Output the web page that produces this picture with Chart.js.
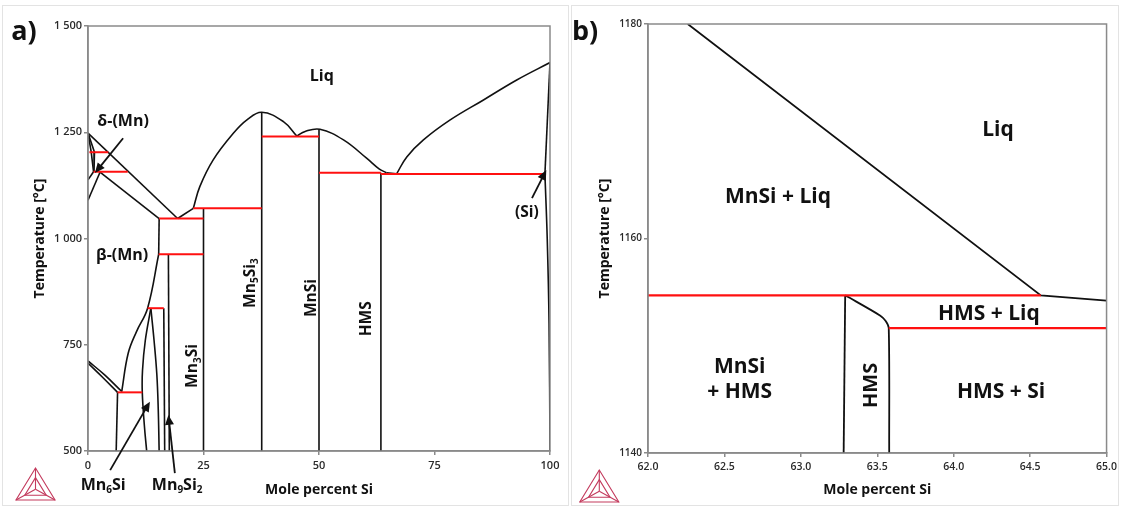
<!DOCTYPE html>
<html>
<head>
<meta charset="utf-8">
<script src="https://cdn.jsdelivr.net/npm/chart.js@4/dist/chart.umd.min.js"></script>
<style>
  html, body { margin: 0; padding: 0; background: #fff; }
  body { width: 1121px; height: 508px; position: relative; overflow: hidden; }
  .frame { position: absolute; border: 1.5px solid #e3e3e3; box-sizing: border-box; }
  .panel { position: absolute; top: 0; height: 508px; }
  #pa { left: 0; width: 570px; }
  #pb { left: 570px; width: 551px; }
</style>
</head>
<body>
<div class="frame" style="left:2px;top:5px;width:567px;height:501px"></div>
<div class="frame" style="left:571px;top:5px;width:548px;height:501px"></div>
<div class="panel" id="pa"><canvas id="ca" width="570" height="508"></canvas></div>
<div class="panel" id="pb"><canvas id="cb" width="551" height="508"></canvas></div>
<script>
const FONT = "'Open Sans', sans-serif";
const INK = '#111111';
const AXIS = '#8a8a8a';
const PHASE = '#111111';
const INVARIANT = '#ff1010';

// ---- Panel a: full Mn–Si diagram (mole % Si, °C) ----
const xTicksA = [0, 25, 50, 75, 100];
const yTicksA = [500, 750, 1000, 1250, 1500];

// liquidus branches
const liqMnSide   = [[0,1248],[19.4,1047]];
const liqEutMn3Si = [[19.4,1047],[22.8,1071]];
const liqMn5Si3   = [[22.8,1071],[24.2,1122],[27.1,1185],[31.5,1248],[34.4,1279],[37.6,1297],[42.3,1275],[45.2,1241]];
const liqMnSi     = [[45.2,1241],[47.0,1252],[50.2,1257],[55.3,1232],[60.3,1189],[63.0,1164],[64.6,1154.7]];
const liqHmsEut   = [[64.6,1154.7],[66.8,1152]];
const liqSi       = [[66.8,1152],[69.0,1192],[72.6,1232],[78.4,1279],[85.6,1326],[92.8,1373],[100,1414]];

// Mn-rich solid solutions
const deltaLeft   = [[0,1248],[0.7,1203],[1.2,1157]];
const deltaRight  = [[0,1248],[1.4,1203],[1.3,1157]];
const deltaLow    = [[0,1138],[1.2,1157]];
const gammaLow    = [[0,1090],[2.6,1156]];
const betaLiq     = [[2.6,1156],[15.4,1047]];
const betaSolvusA = [[15.4,1047],[15.3,963]];
const betaSolvusB = [[15.3,963],[12.9,836],[10.5,781],[8.7,730],[7.3,640]];
const alphaUpper  = [[0,712],[3.6,679],[7.3,640]];
const alphaLower  = [[0,707],[3.2,673],[6.4,638]];
const alphaSolvus = [[6.4,638],[6.1,500]];

// intermediate phases
const mn6SiLeft   = [[13.6,836],[12.4,760],[11.8,690],[11.75,638],[12.2,560],[12.7,500]];
const mn6SiRight  = [[13.6,836],[14.3,760],[14.9,680],[15.2,600],[15.4,500]];
const mn9Si2Left  = [[16.4,836],[16.6,500]];
const mn9Si2Right = [[17.4,963],[17.6,500]];
const mn3Si       = [[25,1071],[25,500]];
const mn5Si3      = [[37.6,1297],[37.6,500]];
const mnSi        = [[50,1257],[50,500]];
const hmsA        = [[63.4,1154.7],[63.4,500]];
const siSolidus   = [[100,1414],[98.9,1151.7]];
const siSolvus    = [[98.9,1151.7],[99.4,1000],[99.8,800],[100,500]];

// invariant reactions (horizontal tie-lines)
const inv1203 = [[0.3,1203],[4.4,1203]];
const inv1157 = [[1.2,1157],[8.6,1157]];
const inv1047 = [[15.4,1047],[25,1047]];
const inv1071 = [[22.8,1071],[37.6,1071]];
const inv1240 = [[37.6,1240],[50,1240]];
const inv1155 = [[50,1154.7],[63.4,1154.7]];
const inv1152 = [[63.4,1151.7],[98.9,1151.7]];
const inv963  = [[15.3,963],[25,963]];
const inv836  = [[12.9,836],[16.4,836]];
const inv638  = [[6.4,638],[11.75,638]];

// ---- Panel b: detail around HMS ----
const xTicksB = [62.0, 62.5, 63.0, 63.5, 64.0, 64.5, 65.0];
const yTicksB = [1140, 1160, 1180];
const liqDetail    = [[62.26,1180],[64.57,1154.7],[65,1154.2]];
const hmsLeftB     = [[63.29,1154.7],[63.28,1140]];
const hmsRightB    = [[63.29,1154.7],[63.52,1152.8],[63.555,1152.3],[63.575,1151.65],[63.578,1140]];
const invUpperB    = [[62,1154.7],[64.57,1154.7]];
const invLowerB    = [[63.575,1151.65],[65,1151.65]];

// ---- text annotations ----
const labelsA = [
  { t: ['Liq'], x: 50.6, y: 1382, size: 16 },
  { t: ['δ-(Mn)'], x: 7.6, y: 1276, size: 16 },
  { t: ['β-(Mn)'], x: 7.4, y: 959, size: 16 },
  { t: ['Mn', { sub: '3' }, 'Si'], x: 22.7, y: 700, size: 15.5, rot: -90 },
  { t: ['Mn', { sub: '5' }, 'Si', { sub: '3' }], x: 35.2, y: 895, size: 15.5, rot: -90 },
  { t: ['MnSi'], x: 48.5, y: 860, size: 15.5, rot: -90 },
  { t: ['HMS'], x: 60.2, y: 811, size: 15.5, rot: -90 },
  { t: ['(Si)'], x: 95.0, y: 1060, size: 15.5 },
  { t: ['Mn', { sub: '6' }, 'Si'], x: 3.3, y: 420, size: 16 },
  { t: ['Mn', { sub: '9' }, 'Si', { sub: '2' }], x: 19.3, y: 420, size: 16 }
];
const arrowsA = [
  { from: [7.6, 1236], to: [1.5, 1154] },
  { from: [96.1, 1095], to: [99.2, 1161] },
  { from: [4.8, 455], to: [13.4, 616] },
  { from: [18.8, 448], to: [17.4, 585] }
];
const labelsB = [
  { t: ['Liq'], x: 64.29, y: 1170.1, size: 21 },
  { t: ['MnSi + Liq'], x: 62.85, y: 1163.9, size: 21 },
  { t: ['MnSi'], x: 62.6, y: 1148.05, size: 21 },
  { t: ['+ HMS'], x: 62.6, y: 1145.7, size: 21 },
  { t: ['HMS'], x: 63.46, y: 1146.3, size: 20, rot: -90 },
  { t: ['HMS + Liq'], x: 64.23, y: 1153.0, size: 21 },
  { t: ['HMS + Si'], x: 64.31, y: 1145.7, size: 21 }
];

function series(points, color, width, tension) {
  return {
    data: points.map(p => ({ x: p[0], y: p[1] })),
    borderColor: color,
    borderWidth: width,
    showLine: true,
    pointRadius: 0,
    pointHoverRadius: 0,
    fill: false,
    tension: tension || 0
  };
}

function drawRich(ctx, parts, x, y, size, rot) {
  const main = `bold ${size}px ${FONT}`;
  const sub = `bold ${Math.round(size * 0.62)}px ${FONT}`;
  ctx.save();
  ctx.translate(x, y);
  ctx.rotate((rot || 0) * Math.PI / 180);
  let w = 0;
  const segs = parts.map(p => {
    const isSub = typeof p === 'object';
    const t = isSub ? p.sub : p;
    ctx.font = isSub ? sub : main;
    const m = ctx.measureText(t).width;
    w += m;
    return { t, isSub, m };
  });
  let cx = -w / 2;
  ctx.textBaseline = 'middle';
  ctx.textAlign = 'left';
  ctx.fillStyle = INK;
  segs.forEach(s => {
    ctx.font = s.isSub ? sub : main;
    ctx.fillText(s.t, cx, s.isSub ? size * 0.32 : 0);
    cx += s.m;
  });
  ctx.restore();
}

function drawArrow(ctx, x1, y1, x2, y2) {
  const a = Math.atan2(y2 - y1, x2 - x1);
  const L = 10, W = 4.5;
  ctx.save();
  ctx.strokeStyle = INK;
  ctx.fillStyle = INK;
  ctx.lineWidth = 1.8;
  ctx.beginPath();
  ctx.moveTo(x1, y1);
  ctx.lineTo(x2 - Math.cos(a) * L * 0.8, y2 - Math.sin(a) * L * 0.8);
  ctx.stroke();
  ctx.beginPath();
  ctx.moveTo(x2, y2);
  ctx.lineTo(x2 - Math.cos(a) * L - Math.sin(a) * W, y2 - Math.sin(a) * L + Math.cos(a) * W);
  ctx.lineTo(x2 - Math.cos(a) * L + Math.sin(a) * W, y2 - Math.sin(a) * L - Math.cos(a) * W);
  ctx.closePath();
  ctx.fill();
  ctx.restore();
}

function drawLogo(ctx, cx, top, size) {
  const h = size * 0.82;
  const A = [cx, top], B = [cx - size / 2, top + h], C = [cx + size / 2, top + h];
  const G = [(A[0] + B[0] + C[0]) / 3, (A[1] + B[1] + C[1]) / 3];
  const mid = (P, Q, t) => [P[0] + (Q[0] - P[0]) * t, P[1] + (Q[1] - P[1]) * t];
  ctx.save();
  ctx.strokeStyle = '#c33a5d';
  ctx.lineWidth = 1.1;
  const tri = (P, Q, R) => { ctx.beginPath(); ctx.moveTo(...P); ctx.lineTo(...Q); ctx.lineTo(...R); ctx.closePath(); ctx.stroke(); };
  tri(A, B, C);
  tri(mid(G, A, 0.55), mid(G, B, 0.55), mid(G, C, 0.55));
  [A, B, C].forEach(P => { ctx.beginPath(); ctx.moveTo(...G); ctx.lineTo(...P); ctx.stroke(); });
  ctx.restore();
}

const decorPlugin = {
  id: 'decor',
  afterDatasetsDraw(chart, args, opts) {
    const ctx = chart.ctx;
    const xs = chart.scales.x, ys = chart.scales.y;
    const ca = chart.chartArea;
    ctx.save();
    ctx.strokeStyle = AXIS;
    ctx.lineWidth = 1.5;
    ctx.strokeRect(ca.left, ca.top, ca.right - ca.left, ca.bottom - ca.top);
    ctx.restore();
    (opts.labels || []).forEach(l => drawRich(ctx, l.t, xs.getPixelForValue(l.x), ys.getPixelForValue(l.y), l.size, l.rot));
    (opts.arrows || []).forEach(a => drawArrow(ctx,
      xs.getPixelForValue(a.from[0]), ys.getPixelForValue(a.from[1]),
      xs.getPixelForValue(a.to[0]), ys.getPixelForValue(a.to[1])));
    ctx.save();
    ctx.font = `bold 27px ${FONT}`;
    ctx.fillStyle = INK;
    ctx.textBaseline = 'middle';
    ctx.textAlign = 'center';
    ctx.fillText(opts.panel, opts.panelX, 32);
    ctx.restore();
    drawLogo(ctx, opts.logoX, opts.logoTop, 39);
  }
};

function axes(cfg) {
  const tickFont = { family: FONT, size: cfg.tickSize, weight: '600' };
  const titleFont = { family: FONT, size: 14, weight: 'bold' };
  return {
    x: {
      type: 'linear', min: cfg.xMin, max: cfg.xMax,
      afterBuildTicks: s => { s.ticks = cfg.xTicks.map(v => ({ value: v })); },
      ticks: { font: tickFont, color: '#2a2a2a', padding: 4, maxRotation: 0, callback: cfg.xFmt },
      grid: { drawOnChartArea: false, tickLength: 4, color: AXIS, lineWidth: 1.5 },
      border: { color: AXIS, width: 1.5 },
      title: { display: true, text: 'Mole percent Si', font: titleFont, color: INK, padding: { top: 0, bottom: 9.5 } },
      afterFit: s => { s.height = cfg.xH; }
    },
    y: {
      type: 'linear', min: cfg.yMin, max: cfg.yMax,
      afterBuildTicks: s => { s.ticks = cfg.yTicks.map(v => ({ value: v })); },
      ticks: { font: { ...tickFont, size: cfg.yTickSize }, color: '#2a2a2a', padding: 2, callback: cfg.yFmt },
      grid: { drawOnChartArea: false, tickLength: 4, color: AXIS, lineWidth: 1.5 },
      border: { color: AXIS, width: 1.5 },
      title: { display: true, text: 'Temperature [°C]', font: titleFont, color: INK, padding: { top: cfg.yTitlePad, bottom: 0 } },
      afterFit: s => { s.width = cfg.yW; }
    }
  };
}

const phaseA = [
  [liqMnSide, 0], [liqEutMn3Si, 0], [liqMn5Si3, 0.4], [liqMnSi, 0.4], [liqHmsEut, 0], [liqSi, 0.4],
  [deltaLeft, 0], [deltaRight, 0], [deltaLow, 0], [gammaLow, 0], [betaLiq, 0],
  [betaSolvusA, 0], [betaSolvusB, 0.4], [alphaUpper, 0.4], [alphaLower, 0.4], [alphaSolvus, 0],
  [mn6SiLeft, 0.4], [mn6SiRight, 0.4], [mn9Si2Left, 0], [mn9Si2Right, 0],
  [mn3Si, 0], [mn5Si3, 0], [mnSi, 0], [hmsA, 0], [siSolidus, 0], [siSolvus, 0.4]
];
const invA = [inv1203, inv1157, inv1047, inv1071, inv1240, inv1155, inv1152, inv963, inv836, inv638];

new Chart(document.getElementById('ca'), {
  type: 'scatter',
  data: {
    datasets: [
      ...invA.map(p => series(p, INVARIANT, 2)),
      ...phaseA.map(([p, t]) => series(p, PHASE, 1.6, t))
    ]
  },
  options: {
    responsive: false, animation: false, devicePixelRatio: 1,
    layout: { padding: { top: 26, right: 20, left: 0, bottom: 0 } },
    plugins: {
      legend: { display: false }, tooltip: { enabled: false },
      decor: { labels: labelsA, arrows: arrowsA, panel: 'a)', panelX: 24, logoX: 35.5, logoTop: 468 }
    },
    scales: axes({
      xMin: 0, xMax: 100, yMin: 500, yMax: 1500, xTicks: xTicksA, yTicks: yTicksA,
      xFmt: v => String(v),
      yFmt: v => v >= 1000 ? String(v).replace(/^(\d)(\d{3})$/, '$1 $2') : String(v),
      tickSize: 11, yTickSize: 11, xH: 57, yW: 88, yTitlePad: 32
    })
  },
  plugins: [decorPlugin]
});

const phaseB = [[liqDetail, 0], [hmsLeftB, 0], [hmsRightB, 0.3]];
const invB = [invUpperB, invLowerB];

new Chart(document.getElementById('cb'), {
  type: 'scatter',
  data: {
    datasets: [
      ...invB.map(p => series(p, INVARIANT, 2.2)),
      ...phaseB.map(([p, t]) => series(p, PHASE, 1.8, t))
    ]
  },
  options: {
    responsive: false, animation: false, devicePixelRatio: 1,
    layout: { padding: { top: 24, right: 12, left: 0, bottom: 0 } },
    plugins: {
      legend: { display: false }, tooltip: { enabled: false },
      decor: { labels: labelsB, arrows: [], panel: 'b)', panelX: 15, logoX: 29.3, logoTop: 470 }
    },
    scales: axes({
      xMin: 62, xMax: 65, yMin: 1140, yMax: 1180, xTicks: xTicksB, yTicks: yTicksB,
      xFmt: v => Number(v).toFixed(1),
      yFmt: v => String(v),
      tickSize: 10.5, yTickSize: 10, xH: 55, yW: 78, yTitlePad: 27
    })
  },
  plugins: [decorPlugin]
});
</script>
</body>
</html>
